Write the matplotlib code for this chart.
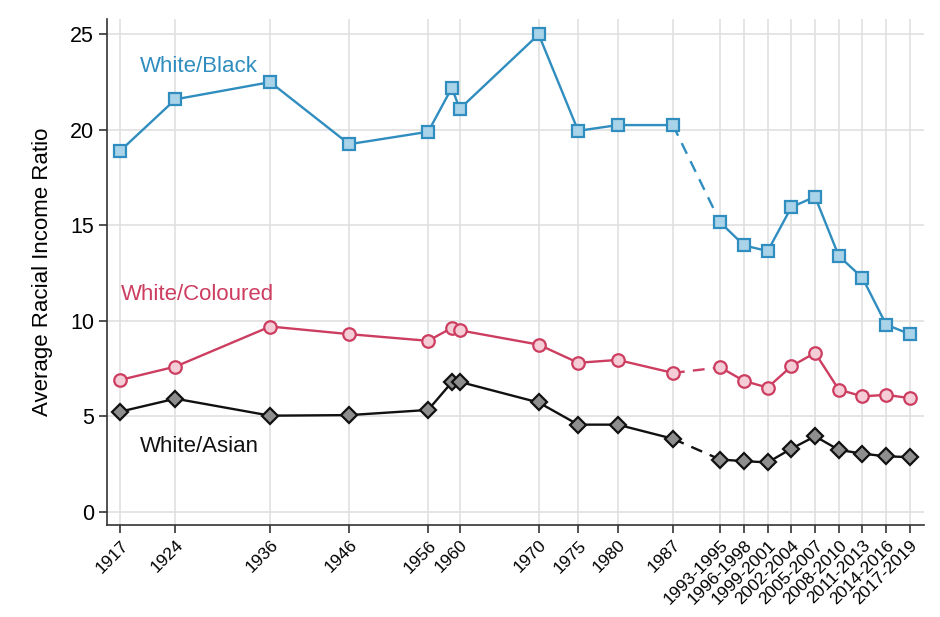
import matplotlib
matplotlib.use("Agg")
from matplotlib import pyplot as plt

plt.rcParams['font.family'] = ['Liberation Sans', 'DejaVu Sans']

# x positions (year, or start year of period) and their labels
years = [1917, 1924, 1936, 1946, 1956, 1959, 1960, 1970, 1975, 1980, 1987,
         1993, 1996, 1999, 2002, 2005, 2008, 2011, 2014, 2017]
tick_years = [1917, 1924, 1936, 1946, 1956, 1960, 1970, 1975, 1980, 1987,
              1993, 1996, 1999, 2002, 2005, 2008, 2011, 2014, 2017]
tick_labels = ["1917", "1924", "1936", "1946", "1956", "1960", "1970", "1975",
               "1980", "1987", "1993-1995", "1996-1998", "1999-2001",
               "2002-2004", "2005-2007", "2008-2010", "2011-2013",
               "2014-2016", "2017-2019"]

white_black = [18.9, 21.6, 22.5, 19.25, 19.9, 22.2, 21.1, 25.0, 19.95, 20.25,
               20.25, 15.15, 13.95, 13.65, 15.95, 16.5, 13.4, 12.25, 9.8, 9.3]
white_coloured = [6.9, 7.6, 9.7, 9.3, 8.95, 9.63, 9.5, 8.75, 7.8, 7.95, 7.27,
                  7.56, 6.85, 6.5, 7.62, 8.32, 6.4, 6.04, 6.12, 5.95]
white_asian = [5.24, 5.92, 5.03, 5.06, 5.33, 6.78, 6.8, 5.72, 4.56, 4.56, 3.82,
               2.73, 2.65, 2.58, 3.3, 3.95, 3.24, 3.04, 2.9, 2.86]

series = [
    ("White/Black", white_black, "#2f8dbf", "#a9d3e8", "s", 9, (140, 66)),
    ("White/Coloured", white_coloured, "#cc3d60", "#f4cdd7", "o", 9, (121, 295)),
    ("White/Asian", white_asian, "#111111", "#8e8e8e", "D", 8.5, (140, 447)),
]

fig = plt.figure(figsize=(9.4, 6.17), dpi=100)
ax = fig.add_axes([0.114, 0.149, 0.869, 0.82])

cut = years.index(1987)
for name, vals, lc, fc, mk, ms, (px, py) in series:
    ax.plot(years[:cut + 1], vals[:cut + 1], "-", color=lc, lw=1.7, zorder=3)
    ax.plot(years[cut:cut + 2], vals[cut:cut + 2], "--", color=lc, lw=1.7,
            dashes=(5, 3.5), zorder=3)
    ax.plot(years[cut + 1:], vals[cut + 1:], "-", color=lc, lw=1.7, zorder=3)
    ax.plot(years, vals, linestyle="none", marker=mk, ms=ms,
            markerfacecolor=fc, markeredgecolor=lc, markeredgewidth=1.6, zorder=4)
    # label placed in figure pixel coordinates (from the top)
    fig.text(px / 940, 1 - py / 617, name, color=lc, fontsize=16,
             va="center", ha="left")

ax.set_xlim(1915.35, 2018.8)
ax.set_ylim(-0.7, 25.8)
ax.set_yticks([0, 5, 10, 15, 20, 25])
ax.set_xticks(tick_years)
ax.set_xticklabels(tick_labels, rotation=45, ha="right", rotation_mode="anchor",
                   fontsize=12.5)
ax.tick_params(axis="y", labelsize=15.5, length=6, width=1.2, color="#333333")
ax.tick_params(axis="x", length=6, width=1.2, color="#333333", pad=3)
ax.set_ylabel("Average Racial Income Ratio", fontsize=16, labelpad=12)

ax.grid(True, color="#e0e0e0", lw=1.2)
ax.set_axisbelow(True)
for s in ["top", "right"]:
    ax.spines[s].set_visible(False)
for s in ["left", "bottom"]:
    ax.spines[s].set_color("#333333")
    ax.spines[s].set_linewidth(1.2)

fig.savefig("out.png", dpi=100)
